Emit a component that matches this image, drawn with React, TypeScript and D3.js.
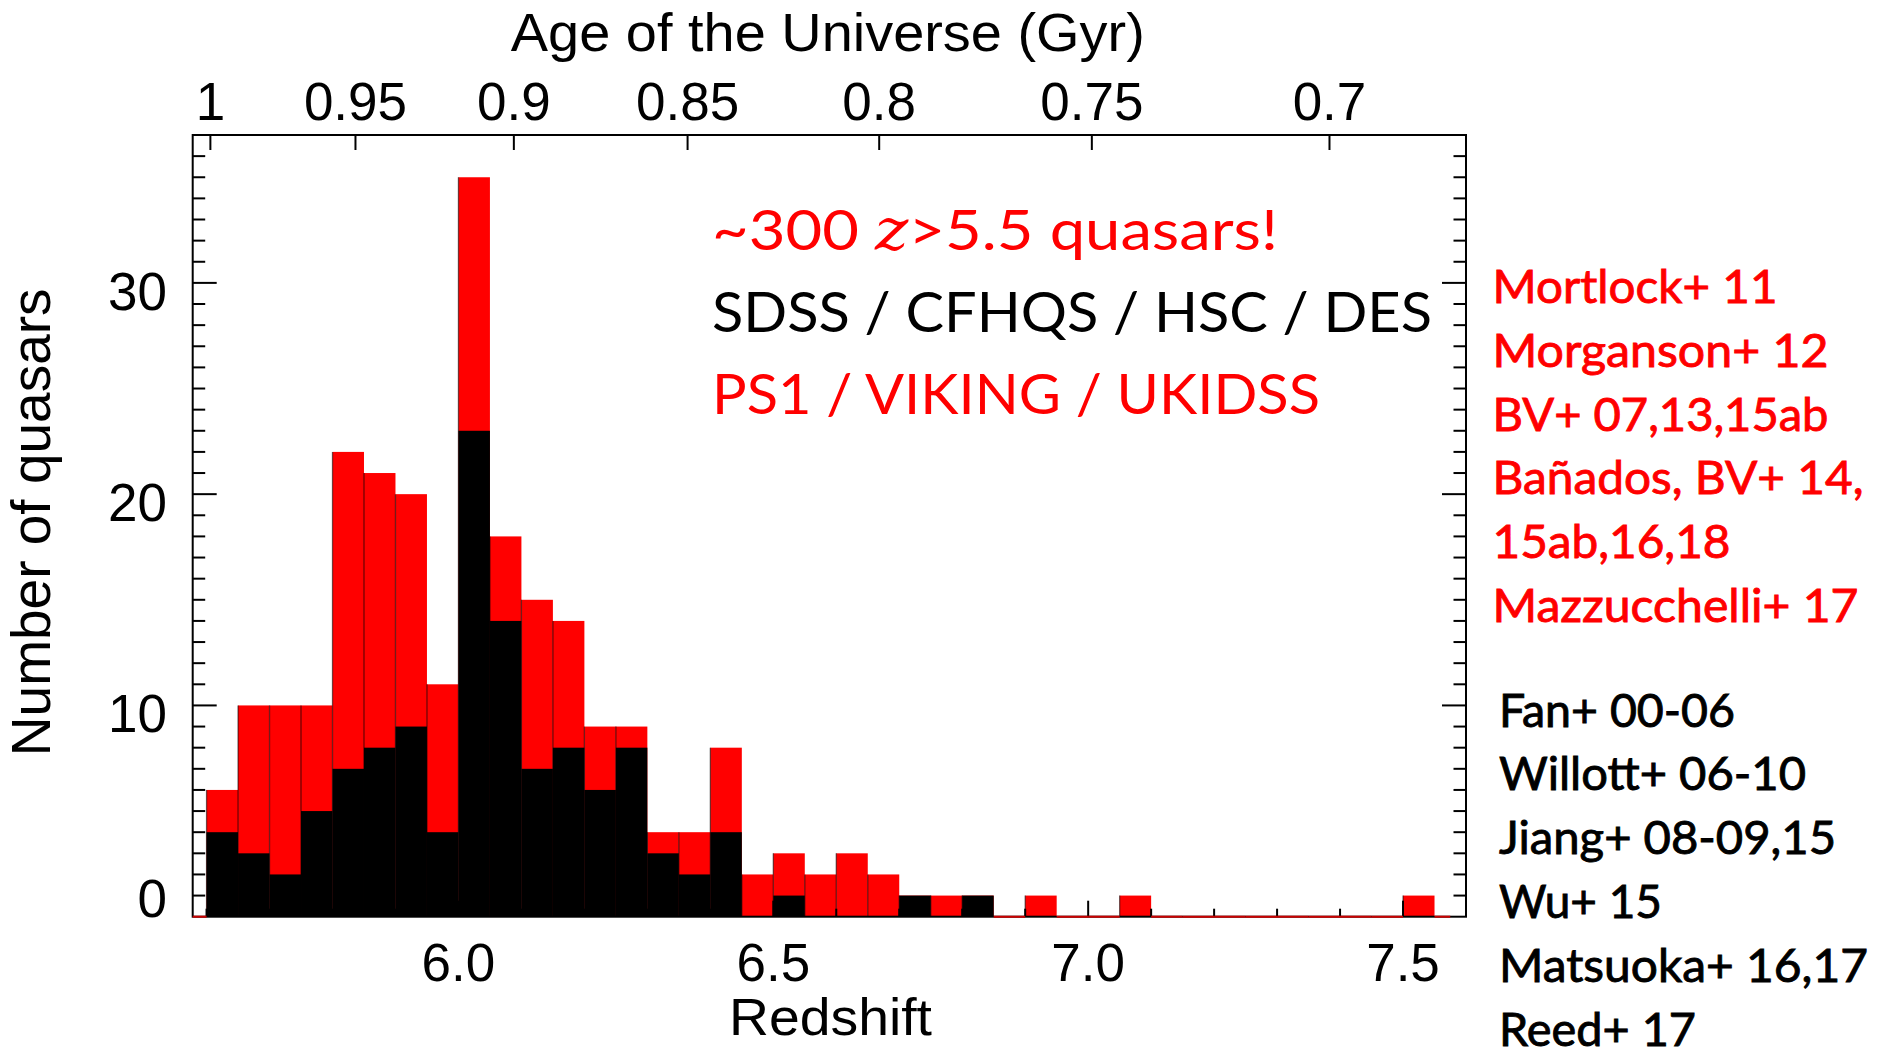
import React from 'react';
import * as d3 from 'd3';

// Histogram bins (lower edges, redshift) and counts per bin
const binStarts = [
  5.6, 5.65, 5.7, 5.75, 5.8, 5.85, 5.9, 5.95, 6.0, 6.05,
  6.1, 6.15, 6.2, 6.25, 6.3, 6.35, 6.4, 6.45, 6.5, 6.55,
  6.6, 6.65, 6.7, 6.75, 6.8, 6.85, 6.9, 6.95, 7.0, 7.05,
  7.1, 7.15, 7.2, 7.25, 7.3, 7.35, 7.4, 7.45, 7.5, 7.55,
];
const binWidth = 0.05;

// All known z>5.5 quasars (red)
const allQuasars = [
  6, 10, 10, 10, 22, 21, 20, 11, 35, 18,
  15, 14, 9, 9, 4, 4, 8, 2, 3, 2,
  3, 2, 1, 1, 1, 0, 1, 0, 0, 1,
  0, 0, 0, 0, 0, 0, 0, 0, 1, 0,
];
// SDSS / CFHQS / HSC / DES subset (black)
const opticalQuasars = [
  4, 3, 2, 5, 7, 8, 9, 4, 23, 14,
  7, 8, 6, 8, 3, 2, 4, 0, 1, 0,
  0, 0, 1, 0, 1, 0, 0, 0, 0, 0,
  0, 0, 0, 0, 0, 0, 0, 0, 0, 0,
];

const redshiftTicks = [6.0, 6.5, 7.0, 7.5];
const redshiftMinorStep = 0.1;
const ageTicks = [1, 0.95, 0.9, 0.85, 0.8, 0.75, 0.7];
const countTicks = [0, 10, 20, 30];

const surveyLines = [
  { text: 'SDSS / CFHQS / HSC / DES', color: '#000000', width: 720 },
  { text: 'PS1 / VIKING / UKIDSS', color: '#ff0000', width: 608 },
];
const redRefs = [
  { text: 'Mortlock+ 11', width: 285 },
  { text: 'Morganson+ 12', width: 336 },
  { text: 'BV+ 07,13,15ab', width: 336 },
  { text: 'Bañados, BV+ 14,', width: 371 },
  { text: '15ab,16,18', width: 238 },
  { text: 'Mazzucchelli+ 17', width: 366 },
];
const blackRefs = [
  { text: 'Fan+ 00-06', width: 236 },
  { text: 'Willott+ 06-10', width: 307 },
  { text: 'Jiang+ 08-09,15', width: 337 },
  { text: 'Wu+ 15', width: 163 },
  { text: 'Matsuoka+ 16,17', width: 369 },
  { text: 'Reed+ 17', width: 197 },
];

// Flat LCDM cosmology used for the age axis
const H0 = 70;
const omegaM = 0.3;
const omegaL = 0.7;
const hubbleTimeGyr = 977.8 / H0;
const ageConst = (2 * hubbleTimeGyr) / (3 * Math.sqrt(omegaL));
const kConst = Math.sqrt(omegaL / omegaM);
const redshiftAtAge = (age: number) =>
  Math.pow(Math.sinh(age / ageConst) / kConst, -2 / 3) - 1;

const AXIS_FONT = '"Liberation Sans", Arial, Helvetica, sans-serif';
const NOTE_FONT = 'Lato, "Noto Sans", sans-serif';

export default function App() {
  const W = 1884;
  const H = 1048;
  const left = 192.7;
  const right = 1466;
  const top = 135;
  const bottom = 916.7;

  const x = d3.scaleLinear().domain([5.578, 7.6]).range([left, right]);
  const y = d3.scaleLinear().domain([0, 37]).range([bottom, top]);

  const bins = binStarts.map((z0, i) => ({
    z0,
    z1: z0 + binWidth,
    total: allQuasars[i],
    optical: opticalQuasars[i],
  }));

  const yMinor = d3.range(1, 37);
  const [zMin, zMax] = x.domain();
  const zMinor = d3
    .range(Math.ceil(zMin / redshiftMinorStep), Math.floor(zMax / redshiftMinorStep))
    .map((k) => +(k * redshiftMinorStep).toFixed(2))
    .filter((v) => !redshiftTicks.some((t) => Math.abs(t - v) < 1e-6));

  const lastCenter = binStarts[binStarts.length - 1] + binWidth / 2;

  const axisStroke = 2;
  const yMajorLen = 24;
  const yMinorLen = 12.5;
  const xMajorLen = 16;
  const xMinorLen = 8;
  const ageTickLen = 15;

  const refGap = 63.8;
  const noteGap = 82;

  return (
    <svg
      width={W}
      height={H}
      viewBox={`0 0 ${W} ${H}`}
      style={{ position: 'absolute', left: 0, top: 0, background: '#fff' }}
    >
      <rect x={0} y={0} width={W} height={H} fill="#ffffff" />

      {/* histogram: total counts in red, optical-survey subset in black */}
      <g>
        {bins
          .filter((b) => b.total > 0)
          .map((b, i) => (
            <rect
              key={`r${i}`}
              x={x(b.z0)}
              y={y(b.total)}
              width={x(b.z1) - x(b.z0)}
              height={y(0) - y(b.total)}
              fill="#ff0000"
            />
          ))}
        {bins
          .filter((b) => b.optical > 0)
          .map((b, i) => (
            <rect
              key={`k${i}`}
              x={x(b.z0)}
              y={y(b.optical)}
              width={x(b.z1) - x(b.z0)}
              height={y(0) - y(b.optical)}
              fill="#000000"
            />
          ))}
        {bins
          .filter((b) => b.total > 0)
          .map((b, i) => (
            <line
              key={`e${i}`}
              x1={x(b.z0)}
              x2={x(b.z0)}
              y1={y(b.total)}
              y2={y(0)}
              stroke="#000"
              strokeOpacity={0.55}
              strokeWidth={1.3}
            />
          ))}
      </g>

      {/* plot frame */}
      <rect
        x={left}
        y={top}
        width={right - left}
        height={bottom - top}
        fill="none"
        stroke="#000"
        strokeWidth={axisStroke}
      />

      {/* count axis ticks, left and right */}
      <g stroke="#000" strokeWidth={axisStroke}>
        {yMinor.map((v) => {
          const len = v % 10 === 0 ? yMajorLen : yMinorLen;
          return (
            <g key={`yt${v}`}>
              <line x1={left} x2={left + len} y1={y(v)} y2={y(v)} />
              <line x1={right} x2={right - len} y1={y(v)} y2={y(v)} />
            </g>
          );
        })}
      </g>

      {/* redshift axis ticks */}
      <g stroke="#000" strokeWidth={axisStroke}>
        {redshiftTicks.map((t) => (
          <line key={`zt${t}`} x1={x(t)} x2={x(t)} y1={bottom} y2={bottom - xMajorLen} />
        ))}
        {zMinor.map((t) => (
          <line key={`zm${t}`} x1={x(t)} x2={x(t)} y1={bottom} y2={bottom - xMinorLen} />
        ))}
      </g>

      {/* age axis ticks along the top */}
      <g stroke="#000" strokeWidth={axisStroke}>
        {ageTicks.map((a) => (
          <line
            key={`at${a}`}
            x1={x(redshiftAtAge(a))}
            x2={x(redshiftAtAge(a))}
            y1={top}
            y2={top + ageTickLen}
          />
        ))}
      </g>

      {/* zero-count bins of the red histogram trace the baseline */}
      <g stroke="#cc0000" strokeWidth={2}>
        <line x1={x(zMin)} x2={x(binStarts[0])} y1={y(0)} y2={y(0)} />
        {bins
          .filter((b) => b.total === 0)
          .map((b, i) => (
            <line
              key={`zb${i}`}
              x1={x(b.z0)}
              x2={x(Math.min(b.z1, lastCenter))}
              y1={y(0)}
              y2={y(0)}
            />
          ))}
      </g>

      {/* axis labels */}
      <g fontFamily={AXIS_FONT} fill="#000">
        {countTicks.map((v) => (
          <text
            key={`yl${v}`}
            x={167}
            y={Math.min(y(v) + 27, y(0))}
            fontSize={53}
            textAnchor="end"
          >
            {v}
          </text>
        ))}
        {redshiftTicks.map((t) => (
          <text key={`zl${t}`} x={x(t)} y={980.7} fontSize={53} textAnchor="middle">
            {t.toFixed(1)}
          </text>
        ))}
        {ageTicks.map((a) => (
          <text
            key={`al${a}`}
            x={x(redshiftAtAge(a))}
            y={120}
            fontSize={53}
            textAnchor="middle"
          >
            {String(a)}
          </text>
        ))}
        <text x={510.8} y={51} fontSize={53} textLength={634} lengthAdjust="spacingAndGlyphs">
          Age of the Universe (Gyr)
        </text>
        <text x={729} y={1035} fontSize={52} textLength={203} lengthAdjust="spacingAndGlyphs">
          Redshift
        </text>
        <text
          transform="translate(50,522.3) rotate(-90)"
          fontSize={55}
          textAnchor="middle"
        >
          Number of quasars
        </text>
      </g>

      {/* headline annotation inside the plot */}
      <g fontFamily={NOTE_FONT}>
        <text
          x={712}
          y={250}
          fontSize={57}
          fill="#ff0000"
          textLength={566}
          lengthAdjust="spacingAndGlyphs"
        >
          ~300{' '}
          <tspan fontFamily='"DejaVu Serif", serif' fontStyle="italic">
            z
          </tspan>
          &gt;5.5 quasars!
        </text>
        {surveyLines.map((s, i) => (
          <text
            key={s.text}
            x={712}
            y={250 + (i + 1) * noteGap}
            fontSize={57}
            fill={s.color}
            textLength={s.width}
            lengthAdjust="spacingAndGlyphs"
          >
            {s.text}
          </text>
        ))}
      </g>

      {/* reference lists beside the plot */}
      <g fontFamily={NOTE_FONT} fontSize={47} strokeWidth={0.9}>
        {redRefs.map((r, i) => (
          <text
            key={r.text}
            x={1492.5}
            y={303 + i * refGap}
            fill="#ff0000"
            stroke="#ff0000"
            textLength={r.width}
            lengthAdjust="spacingAndGlyphs"
          >
            {r.text}
          </text>
        ))}
        {blackRefs.map((r, i) => (
          <text
            key={r.text}
            x={1499}
            y={726.6 + i * refGap}
            fill="#000000"
            stroke="#000000"
            textLength={r.width}
            lengthAdjust="spacingAndGlyphs"
          >
            {r.text}
          </text>
        ))}
      </g>
    </svg>
  );
}
